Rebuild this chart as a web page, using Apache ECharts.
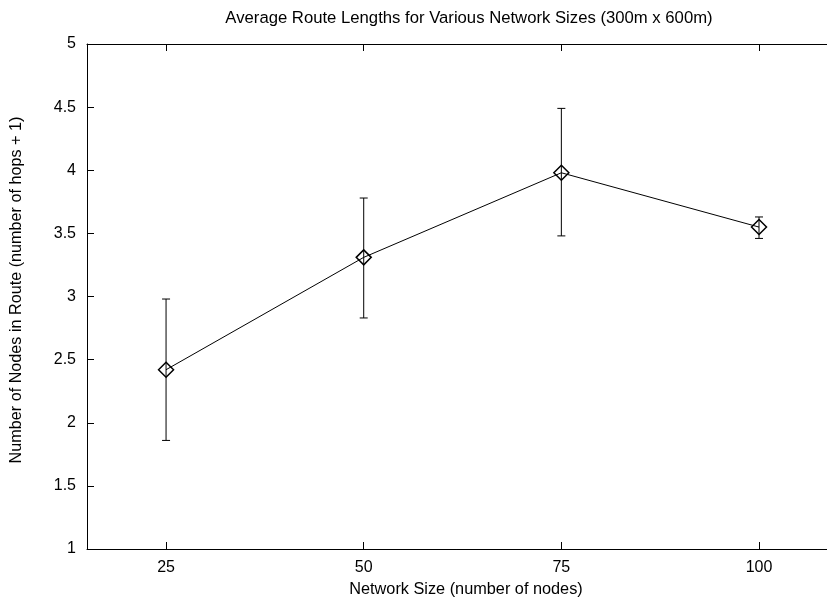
<!DOCTYPE html>
<html>
<head>
<meta charset="utf-8">
<script src="https://cdn.jsdelivr.net/npm/echarts@6/dist/echarts.min.js"></script>
<style>html,body{margin:0;padding:0;background:#fff;}#c{width:827px;height:601px;}</style>
</head>
<body>
<div id="c"></div>
<script>
var networkSizes = [25, 50, 75, 100];
var meanNodes = [2.42, 3.31, 3.98, 3.55];
var errLow = [1.86, 2.83, 3.48, 3.46];
var errHigh = [2.98, 3.78, 4.49, 3.63];
var yTicks = [1, 1.5, 2, 2.5, 3, 3.5, 4, 4.5, 5];
var xTicks = [25, 50, 75, 100];
var titleText = 'Average Route Lengths for Various Network Sizes (300m x 600m)';
var xName = 'Network Size (number of nodes)';
var yName = 'Number of Nodes in Route (number of hops + 1)';

var FONT = '"Liberation Sans", Arial, sans-serif';
var chart = echarts.init(document.getElementById('c'), null, {renderer: 'canvas'});

var lineData = networkSizes.map(function (x, i) { return [x, meanNodes[i]]; });
var errData = networkSizes.map(function (x, i) { return [x, errLow[i], errHigh[i]]; });

var axisLine = {show: true, lineStyle: {color: '#000', width: 1}};
var tickIn = {show: true, inside: true, length: 7, lineStyle: {color: '#000', width: 1}};

var option = {
  backgroundColor: '#fff',
  animation: false,
  title: {
    text: titleText,
    left: 464, top: 5, textAlign: 'center',
    textStyle: {fontFamily: FONT, fontSize: 16.7, fontWeight: 'normal', color: '#000'}
  },
  graphic: [{
    type: 'text', x: 466, y: 590,
    style: {text: xName, font: '16.3px ' + FONT, fill: '#000', align: 'center', verticalAlign: 'middle'}
  }, {
    type: 'text', x: 17, y: 290, rotation: Math.PI / 2,
    style: {text: yName, font: '16.2px ' + FONT, fill: '#000', align: 'center', verticalAlign: 'middle'}
  }],
  grid: {left: 87, top: 44, bottom: 52, right: 0, containLabel: false},
  xAxis: [{
    type: 'value', min: 15, max: 108.6, position: 'bottom',
    axisLine: axisLine, splitLine: {show: false},
    axisLabel: {
      fontFamily: FONT, fontSize: 16, color: '#000', margin: 11,
      customValues: xTicks
    },
    axisTick: {show: true, inside: true, length: 7, lineStyle: {color: '#000'}, customValues: xTicks}
  }, {
    type: 'value', min: 15, max: 108.6, position: 'top',
    axisLine: axisLine, splitLine: {show: false},
    axisLabel: {show: false},
    axisTick: {show: true, inside: true, length: 7, lineStyle: {color: '#000'}, customValues: xTicks}
  }],
  yAxis: [{
    type: 'value', min: 1, max: 5, interval: 0.5, position: 'left',
    axisLine: axisLine, axisTick: tickIn, splitLine: {show: false},
    axisLabel: {fontFamily: FONT, fontSize: 16, color: '#000', margin: 11,
      formatter: function (v) { return String(v); }}
  }],
  series: [{
    type: 'line',
    data: lineData,
    xAxisIndex: 0, yAxisIndex: 0,
    symbol: 'diamond', symbolSize: 15,
    lineStyle: {color: '#000', width: 1},
    itemStyle: {color: 'rgba(0,0,0,0)', borderColor: '#000', borderWidth: 1.5},
    z: 3
  }, {
    type: 'custom',
    xAxisIndex: 0, yAxisIndex: 0,
    data: errData,
    encode: {x: 0, y: [1, 2]},
    renderItem: function (params, api) {
      var x = api.value(0);
      var lo = api.coord([x, api.value(1)]);
      var hi = api.coord([x, api.value(2)]);
      var hw = 4;
      var st = {stroke: '#000', lineWidth: 1};
      return {
        type: 'group',
        children: [
          {type: 'line', shape: {x1: lo[0], y1: lo[1], x2: hi[0], y2: hi[1]}, style: st},
          {type: 'line', shape: {x1: lo[0] - hw, y1: lo[1], x2: lo[0] + hw, y2: lo[1]}, style: st},
          {type: 'line', shape: {x1: hi[0] - hw, y1: hi[1], x2: hi[0] + hw, y2: hi[1]}, style: st}
        ]
      };
    },
    z: 2
  }]
};
chart.setOption(option);
</script>
</body>
</html>
